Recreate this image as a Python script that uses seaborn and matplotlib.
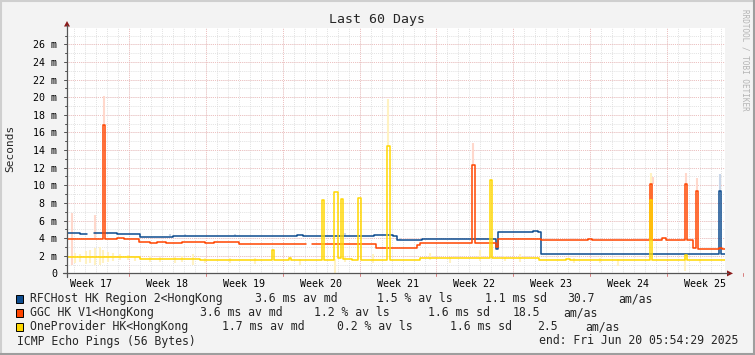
import numpy as np
import pandas as pd
import matplotlib
matplotlib.use("Agg")
import matplotlib.pyplot as plt
from matplotlib.patches import Rectangle, Polygon
import seaborn as sns

# median rtt (ms), x = days since start of the 60 day window, nan = gap
rfc_day = [0, 1.19, 1.82, 1.82, 2.46, 4.56, 6.66, 9.67, 12.04, 12.4, 13.5, 21.0, 21.5,
           28.0, 29.7, 30.09, 32.37, 39.12, 39.3, 42.49, 42.95, 43.22, 59.45, 59.63, 60.0]
rfc_ms = [4.55, 4.45, 4.45, np.nan, 4.55, 4.5, 4.1, 4.2, 4.3, 4.25, 4.3, 4.38, 4.3,
          4.38, 4.2, 3.75, 3.92, 2.8, 4.75, 4.82, 4.75, 2.15, 9.3, 2.15, 2.15]

ggc_day = [0, 3.28, 3.46, 4.56, 5.2, 6.57, 7.57, 8.2, 9.0, 10.5, 11.2, 12.6, 13.4, 14.2,
           15.68, 21.79, 21.79, 22.34, 28.18, 31.91, 32.19, 36.93, 37.2, 39.12, 39.3,
           43.22, 47.5, 47.87, 53.16, 53.34, 54.25, 54.61, 56.35, 56.53, 57.08, 57.36,
           57.54, 59.45, 59.72, 60.0]
ggc_ms = [3.9, 16.9, 3.9, 4.0, 3.9, 3.6, 3.5, 3.6, 3.5, 3.6, 3.55, 3.5, 3.6, 3.55,
          3.3, 3.3, np.nan, 3.3, 2.85, 3.2, 3.45, 12.3, 3.45, 3.0, 3.9,
          3.75, 3.9, 3.75, 10.2, 3.75, 4.0, 3.75, 10.2, 3.75, 2.85, 9.3,
          2.75, 2.9, 2.8, 2.8]

one_day = [0, 6.66, 12.13, 18.69, 18.87, 20.24, 20.42, 23.25, 23.43, 24.35, 24.71,
           24.98, 25.17, 25.99, 26.53, 26.81, 29.18, 29.45, 32.19, 38.57, 38.75, 43.04,
           45.5, 45.86, 53.16, 53.34, 56.35, 56.53, 60.0]
one_ms = [1.83, 1.63, 1.48, 2.7, 1.48, 1.8, 1.48, 8.3, 1.48, 9.25, 1.7,
          8.4, 1.65, 1.5, 8.55, 1.5, 14.46, 1.52, 1.72, 10.6, 1.72, 1.48,
          1.6, 1.48, 8.3, 1.48, 2.1, 1.48, 1.48]

# smoke (min / max of the pings) where it shows
rfc_smoke_day = [9.39, 10.76, 15.32, 25.35, 30.36, 59.54]
rfc_smoke_lo = [4.2, 4.2, 4.3, 4.3, 3.75, 9.3]
rfc_smoke_hi = [4.45, 4.45, 4.5, 4.55, 4.0, 11.3]

ggc_smoke_day = [0.46, 2.55, 3.37, 37.0, 53.43, 56.44, 57.45]
ggc_smoke_lo = [1.0, 3.9, 16.9, 12.3, 10.2, 10.2, 9.3]
ggc_smoke_hi = [6.9, 6.6, 20.1, 14.8, 10.9, 11.4, 10.8]

one_smoke_day = [0.73, 1.19, 1.73, 2.10, 2.55, 3.01, 3.28, 3.74, 4.19, 4.83, 5.56, 6.20,
                 7.57, 8.48, 9.85, 10.49, 11.49, 12.58, 14.86, 17.14, 21.25, 24.44,
                 25.35, 27.9, 29.27, 33.1, 34.92, 37.66, 39.94, 41.31, 46.23, 48.6,
                 50.24, 53.25, 56.35, 57.72]
one_smoke_lo = [1.2, 1.3, 1.1, 1.2, 1.0, 0.9, 1.2, 1.3, 1.4, 1.5, 1.5, 1.4,
                1.3, 1.3, 1.2, 1.3, 1.0, 1.2, 1.2, 1.1, 0.9, 0.0,
                1.3, 1.2, 14.46, 1.5, 1.2, 1.4, 1.4, 1.3, 1.2, 1.2,
                0.8, 8.3, 0.3, 1.2]
one_smoke_hi = [2.3, 2.2, 2.5, 2.7, 2.9, 3.0, 2.6, 2.4, 2.3, 2.2, 2.1, 2.0,
                2.0, 1.9, 1.9, 2.0, 2.2, 1.7, 1.7, 1.8, 1.6, 1.6,
                1.9, 2.2, 19.8, 2.3, 1.9, 2.6, 2.0, 2.2, 1.7, 1.7,
                1.6, 11.4, 2.3, 1.6]

targets = ['RFCHost HK Region 2<HongKong', 'GGC HK V1<HongKong', 'OneProvider HK<HongKong']
line_colors = ['#0d4c8f', '#ff4500', '#ffd700']
smoke_colors = ['#c9d6e8', '#ffd8cc', '#fff2c2']

week_pos = [2.15 + 7 * k for k in range(9)]
week_labels = ['Week %d' % w for w in range(17, 26)]
y_ticks = list(range(0, 27, 2))
y_labels = ['0'] + ['%d m' % v for v in y_ticks[1:]]

stats = [
    [(255, '3.6 ms av md'), (377, '1.5 % av ls'), (485, '1.1 ms sd'), (567, '30.7'), (618, 'am/as')],
    [(200, '3.6 ms av md'), (314, '1.2 % av ls'), (428, '1.6 ms sd'), (513, '18.5'), (563, 'am/as')],
    [(222, '1.7 ms av md'), (337, '0.2 % av ls'), (450, '1.6 ms sd'), (537, '2.5'), (585, 'am/as')],
]


def frame(day, ms, name):
    d = pd.DataFrame({'day': day, 'ms': ms})
    d['seg'] = name + d['ms'].isna().cumsum().astype(str)
    d['target'] = name
    return d.dropna()


df = pd.concat([frame(rfc_day, rfc_ms, targets[0]),
                frame(ggc_day, ggc_ms, targets[1]),
                frame(one_day, one_ms, targets[2])], ignore_index=True)

sns.set_theme(style="white")
plt.rcParams['font.family'] = ['DejaVu Sans Mono']

W, H = 755, 355
x0, x1, y0, y1 = 67, 725, 28, 273.4
fig = plt.figure(figsize=(W / 100, H / 100), dpi=100, facecolor='#f3f3f3')
ax = fig.add_axes([x0 / W, 1 - y1 / H, (x1 - x0) / W, (y1 - y0) / H])
ax.set_facecolor('white')
ax.set_xlim(0, 60)
ax.set_ylim(0, (y1 - y0) / 8.81)
for s in ax.spines.values():
    s.set_visible(False)

dot = (0, (1, 1.3))
ax.vlines(np.arange(0.68, 60, 1), 0, 28, colors='#d9d9d9', lw=0.6, linestyles=dot, zorder=0.5)
ax.hlines(np.arange(1, 28, 1), 0, 60, colors='#d9d9d9', lw=0.6, linestyles=dot, zorder=0.5)
ax.vlines(np.arange(5.68, 60, 7), 0, 28, colors='#f2b4b4', lw=0.6, linestyles=dot, zorder=0.6)
ax.hlines(np.arange(2, 28, 2), 0, 60, colors='#f2b4b4', lw=0.6, linestyles=dot, zorder=0.6)

ax.vlines(rfc_smoke_day, rfc_smoke_lo, rfc_smoke_hi, colors=smoke_colors[0], lw=1.5, zorder=1)
ax.vlines(ggc_smoke_day, ggc_smoke_lo, ggc_smoke_hi, colors=smoke_colors[1], lw=1.5, zorder=1)
ax.vlines(one_smoke_day, one_smoke_lo, one_smoke_hi, colors=smoke_colors[2], lw=1.5, zorder=1)

sns.lineplot(data=df, x='day', y='ms', hue='target', units='seg', estimator=None,
             sort=False, hue_order=targets, palette=dict(zip(targets, line_colors)),
             drawstyle='steps-post', linewidth=1.1, legend=False, ax=ax, zorder=2)

ax.set_xticks(week_pos, week_labels, fontsize=7.2)
ax.set_yticks(y_ticks, y_labels, fontsize=7.2)
ax.tick_params(axis='both', length=0, colors='black')
ax.tick_params(axis='x', pad=4)
ax.tick_params(axis='y', pad=7)
ax.set_xlabel('')
ax.set_ylabel('Seconds', fontsize=8)
ax.yaxis.set_label_coords((15 - x0) / (x1 - x0), (y1 - 148) / (y1 - y0))

# overlay in pixel coordinates for axis arrows, frame and legend
ov = fig.add_axes([0, 0, 1, 1], zorder=5)
ov.set_xlim(0, W)
ov.set_ylim(H, 0)
ov.axis('off')
ov.patch.set_alpha(0)

axis_c = '#555555'
for v in range(0, 28):
    yy = y1 - v * 8.81
    ov.plot([64 if v % 2 == 0 else 65, 67], [yy, yy], color=axis_c, lw=0.72)
for k in range(9):
    xx = x0 + (5.68 + 7 * k) * 10.967
    ov.plot([xx, xx], [y1, y1 + 3], color='#d88080', lw=0.72)
ov.plot([63, 728], [y1, y1], color=axis_c, lw=0.9)
ov.plot([x0, x0], [277, 25], color=axis_c, lw=0.9)
ov.add_patch(Polygon([[x0 - 3, 26.5], [x0 + 3, 26.5], [x0, 21]], closed=True, color='#8b1a1a', lw=0))
ov.add_patch(Polygon([[727, y1 - 3], [727, y1 + 3], [733, y1]], closed=True, color='#8b1a1a', lw=0))

ov.plot([0, W], [1, 1], color='#cfcfcf', lw=1.5)
ov.plot([1, 1], [0, H], color='#cfcfcf', lw=1.5)
ov.plot([0, W], [H - 1, H - 1], color='#9e9e9e', lw=1.5)
ov.plot([W - 1, W - 1], [0, H], color='#9e9e9e', lw=1.5)

ov.text(377, 20, 'Last 60 Days', ha='center', va='center', fontsize=9.5)
ov.text(745, 60, 'RRDTOOL / TOBI OETIKER', rotation=270, ha='center', va='center',
        fontsize=5.5, color='#b4b4b4')

rows_y = [298.5, 312.5, 326.5]
for i, name in enumerate(targets):
    ov.add_patch(Rectangle((15.5, rows_y[i] - 4), 7, 8, facecolor=line_colors[i],
                           edgecolor='black', lw=0.7))
    ov.text(30, rows_y[i], name, va='center', fontsize=8.3)
    for xx, txt in stats[i]:
        ov.text(xx, rows_y[i], txt, va='center', fontsize=8.3)
ov.text(17, 341, 'ICMP Echo Pings (56 Bytes)', va='center', fontsize=8.3)
ov.text(738, 341, 'end: Fri Jun 20 05:54:29 2025', va='center', ha='right', fontsize=8.3)

plt.savefig('out.png', dpi=100, facecolor=fig.get_facecolor())
